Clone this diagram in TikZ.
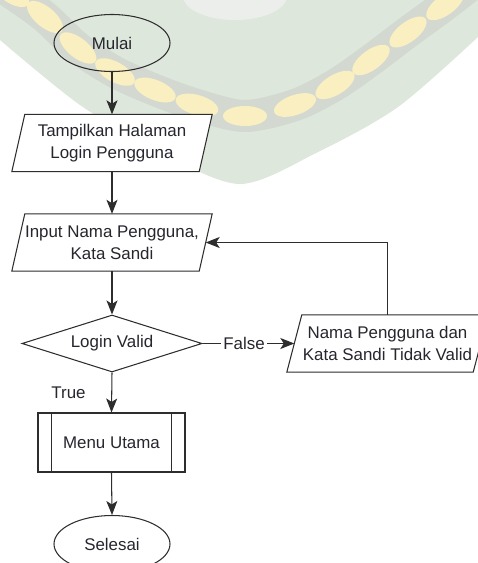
\documentclass[tikz,border=0pt]{standalone}
\usepackage{fontspec}
\setmainfont{Liberation Sans}
\usetikzlibrary{shapes.geometric,arrows.meta}
\pgfdeclarelayer{wm}
\pgfdeclarelayer{shapes}
\pgfsetlayers{wm,shapes,main}
\definecolor{ink}{RGB}{45,45,45}
\definecolor{txt}{RGB}{38,38,46}
\definecolor{wmgreen}{RGB}{222,231,220}
\definecolor{wmband}{RGB}{211,216,209}
\definecolor{wmpetal}{RGB}{249,239,192}
\definecolor{wmwhite}{RGB}{236,238,236}
\tikzset{
  line/.style={draw=ink, line width=1.05pt},
  arr/.style={line, -{Stealth[length=14pt,width=11pt,inset=3.5pt]}},
  lbl/.style={font=\fontsize{16.9}{22}\selectfont, text=txt, inner sep=0pt},
  term/.style={lbl, ellipse, line, minimum width=116pt, minimum height=57pt},
  io/.style={lbl, rectangle, align=center, minimum width=#1, minimum height=57pt},
  iobox/.style={line, fill=white},
}
\begin{document}
\begin{tikzpicture}[x=1pt,y=-1pt]
\useasboundingbox (0,0) rectangle (478,563);
% watermark
\begin{pgfonlayer}{wm}
\clip (0,0) rectangle (478,563);
\fill[wmgreen] (0,0) -- (0,40) -- plot[smooth] coordinates {(0,40) (80,105) (160,152) (240,184) (318,152) (398,107) (478,37)} -- (478,0) -- cycle;
\fill[wmwhite] (235,-4) ellipse (52pt and 24pt);
\draw[wmband, line width=32pt, line cap=round] plot[smooth] coordinates {(-25,-30) (10,-8) (45,17) (78,48) (115,72) (155,90) (197,105) (245,116) (295,105) (335,85) (371,60) (408,32) (445,5) (490,-30)};
\foreach \px/\py/\pa in {10/-8/-35, 45/17/-40, 78/48/-38, 115/72/-29, 155/90/-22, 197/105/-16, 245/116/0, 295/105/19, 335/85/31, 371/60/36, 408/32/37, 445/5/36, 478/-20/36}
  \fill[wmpetal, rotate around={\pa:(\px,\py)}] (\px,\py) ellipse (22pt and 10pt);
\end{pgfonlayer}

% nodes
\node[term] (mulai) at (112,43) {Mulai};
\node[io=187pt] (p1) at (112,143) {Tampilkan Halaman\\Login Pengguna};
\node[io=187pt] (p2) at (112,242.5) {Input Nama Pengguna,\\Kata Sandi};
\node[lbl, diamond, line, fill=white, aspect=3.16, minimum width=180pt, minimum height=57pt] (d) at (112,343.5) {Login Valid};
\node[io=186pt] (p3) at (387.5,343.5) {Nama Pengguna dan\\Kata Sandi Tidak Valid};
\node[lbl, inner xsep=2.5pt] (fl) at (244,343.5) {False};
\node[lbl] (tl) at (68.5,393) {True};
\node[lbl, rectangle, line, fill=white, minimum width=147pt, minimum height=59pt] (menu) at (111.5,442.5) {Menu Utama};
\node[term] (selesai) at (112,544) {Selesai};

% parallelogram outlines
\begin{pgfonlayer}{shapes}
\draw[iobox] ([xshift=6.5pt]p1.north west) -- ([xshift=6.5pt]p1.north east) -- ([xshift=-6.5pt]p1.south east) -- ([xshift=-6.5pt]p1.south west) -- cycle;
\draw[iobox] ([xshift=6.5pt]p2.north west) -- ([xshift=6.5pt]p2.north east) -- ([xshift=-6.5pt]p2.south east) -- ([xshift=-6.5pt]p2.south west) -- cycle;
\draw[iobox] ([xshift=7.5pt]p3.north west) -- ([xshift=7.5pt]p3.north east) -- ([xshift=-7.5pt]p3.south east) -- ([xshift=-7.5pt]p3.south west) -- cycle;
\end{pgfonlayer}

% subroutine bars
\draw[line] ([xshift=14pt]menu.north west) -- ([xshift=14pt]menu.south west);
\draw[line] ([xshift=-14pt]menu.north east) -- ([xshift=-14pt]menu.south east);

% connectors
\draw[arr] (mulai.south) -- (p1.north);
\draw[arr] (p1.south) -- (p2.north);
\draw[arr] (p2.south) -- (d.north);
\draw[line] (d.east) -- (fl.west);
\draw[arr] (fl.east) -- (p3.west);
\draw[arr] (p3.north) |- (p2.east);
\draw[arr] (d.south) -- (menu.north);
\draw[arr] (menu.south) -- (selesai.north);
\end{tikzpicture}
\end{document}
